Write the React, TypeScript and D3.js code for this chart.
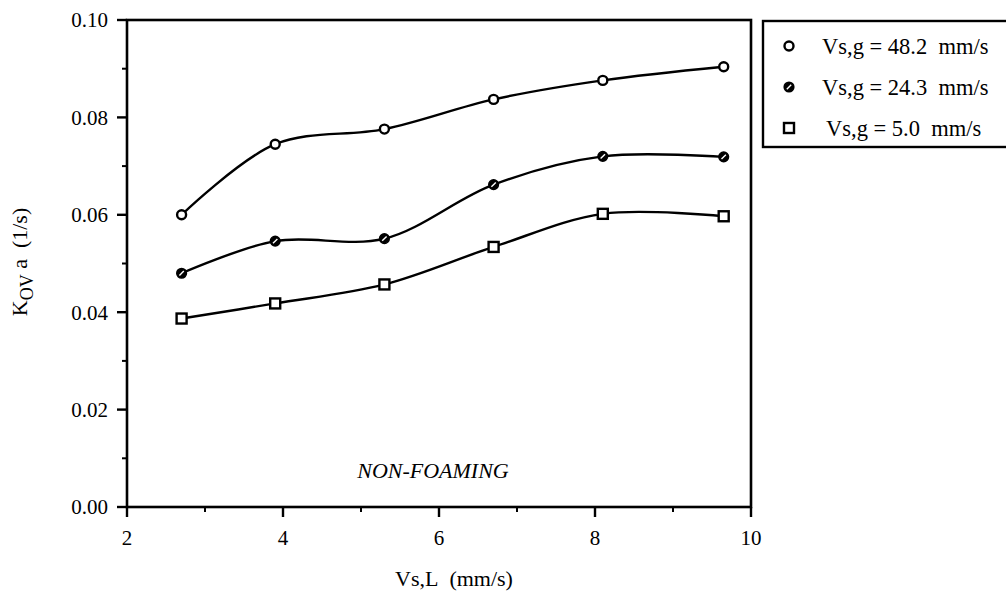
import React from "react";
import * as d3 from "d3";

const xVals = [2.7, 3.9, 5.3, 6.7, 8.1, 9.65];
const seriesHigh = [0.06, 0.0745, 0.0776, 0.0837, 0.0876, 0.0904];
const seriesMid = [0.048, 0.0546, 0.0551, 0.0662, 0.072, 0.0719];
const seriesLow = [0.0387, 0.0418, 0.0457, 0.0534, 0.0602, 0.0597];
const legendLabels = ["Vs,g = 48.2  mm/s", "Vs,g = 24.3  mm/s", "Vs,g = 5.0  mm/s"];
const xTicks = [2, 4, 6, 8, 10];
const xMinor = [3, 5, 7, 9];
const yTicks = [0, 0.02, 0.04, 0.06, 0.08, 0.1];
const yMinor = [0.01, 0.03, 0.05, 0.07, 0.09];

const FONT = "'Liberation Serif', 'Times New Roman', serif";

function Marker({ kind, x, y }: { kind: number; x: number; y: number }) {
  if (kind === 0) {
    return <circle cx={x} cy={y} r={4.5} fill="white" stroke="black" strokeWidth={2.4} />;
  }
  if (kind === 1) {
    return (
      <g>
        <circle cx={x} cy={y} r={4.8} fill="black" stroke="black" strokeWidth={1.6} />
        <line x1={x - 2.2} y1={y + 2.2} x2={x + 2.2} y2={y - 2.2} stroke="white" strokeWidth={1.4} />
      </g>
    );
  }
  return <rect x={x - 5} y={y - 5} width={10} height={10} fill="white" stroke="black" strokeWidth={2.4} />;
}

export default function App() {
  const x = d3.scaleLinear().domain([2, 10]).range([127, 751]);
  const y = d3.scaleLinear().domain([0, 0.1]).range([507, 20]);
  const line = d3
    .line<number>()
    .x((_, i) => x(xVals[i]))
    .y((d) => y(d))
    .curve(d3.curveCatmullRom.alpha(0.5));
  const all = [seriesHigh, seriesMid, seriesLow];
  const fmt = d3.format(".2f");

  return (
    <svg
      width={1006}
      height={598}
      style={{ position: "absolute", left: 0, top: 0, background: "white" }}
      fontFamily={FONT}
    >
      <rect width={1006} height={598} fill="white" />
      {/* plot frame */}
      <rect x={x(2)} y={y(0.1)} width={x(10) - x(2)} height={y(0) - y(0.1)} fill="none" stroke="black" strokeWidth={2.6} />
      {/* y ticks */}
      {yTicks.map((t) => (
        <g key={"yt" + t}>
          <line x1={x(2) - 10} x2={x(2)} y1={y(t)} y2={y(t)} stroke="black" strokeWidth={2.4} />
          <text x={108} y={y(t)} dy="0.35em" textAnchor="end" fontSize={21}>
            {fmt(t)}
          </text>
        </g>
      ))}
      {yMinor.map((t) => (
        <line key={"ym" + t} x1={x(2) - 5} x2={x(2)} y1={y(t)} y2={y(t)} stroke="black" strokeWidth={2} />
      ))}
      {/* x ticks */}
      {xTicks.map((t) => (
        <g key={"xt" + t}>
          <line x1={x(t)} x2={x(t)} y1={y(0)} y2={y(0) + 10} stroke="black" strokeWidth={2.4} />
          <text x={x(t)} y={y(0) + 31} dy="0.35em" textAnchor="middle" fontSize={21}>
            {t}
          </text>
        </g>
      ))}
      {xMinor.map((t) => (
        <line key={"xm" + t} x1={x(t)} x2={x(t)} y1={y(0)} y2={y(0) + 5} stroke="black" strokeWidth={2} />
      ))}
      {/* curves */}
      {all.map((s, i) => (
        <path key={"c" + i} d={line(s) || ""} fill="none" stroke="black" strokeWidth={2.4} />
      ))}
      {all.map((s, i) =>
        s.map((v, j) => <Marker key={"m" + i + "-" + j} kind={i} x={x(xVals[j])} y={y(v)} />)
      )}
      {/* annotation */}
      <text x={433} y={478} textAnchor="middle" fontSize={22} fontStyle="italic">
        NON-FOAMING
      </text>
      {/* axis titles */}
      <text x={395} y={578} dy="0.35em" fontSize={22}>
        Vs,L{"\u00a0\u00a0"}(mm/s)
      </text>
      <text transform="translate(27,262) rotate(-90)" textAnchor="middle" fontSize={22}>
        K
        <tspan fontSize={18} dy={6}>OV</tspan>
        <tspan dy={-6}> a{"\u00a0\u00a0"}(1/s)</tspan>
      </text>
      {/* legend */}
      <rect x={763} y={21} width={260} height={126} fill="white" stroke="black" strokeWidth={2.4} />
      {legendLabels.map((lab, i) => (
        <g key={"lg" + i}>
          <Marker kind={i} x={789} y={46 + i * 41} />
          <text x={i === 2 ? 826 : 822} y={46 + i * 41} dy="0.35em" fontSize={22.5}>
            {lab.replace("  ", "\u00a0\u00a0")}
          </text>
        </g>
      ))}
    </svg>
  );
}
